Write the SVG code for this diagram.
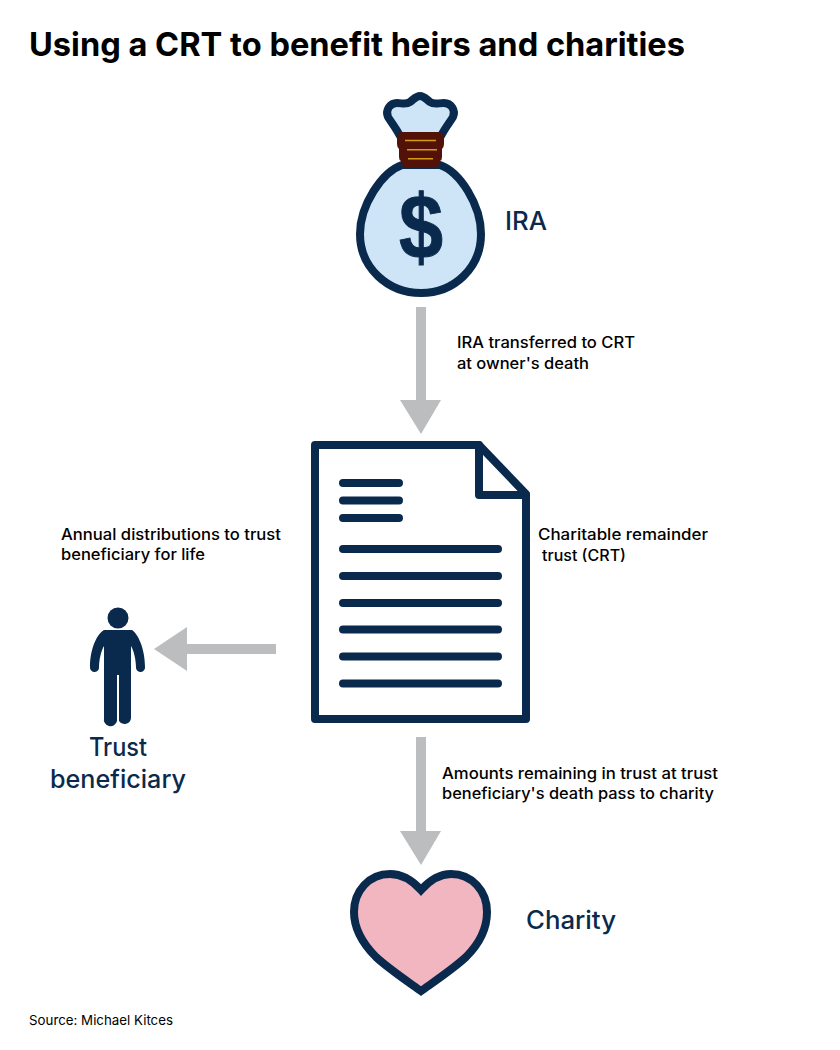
<svg xmlns="http://www.w3.org/2000/svg" width="840" height="1050" viewBox="0 0 840 1050">
<style>
text{font-family:"Inter","Noto Sans","Liberation Sans",sans-serif}
.title{font-size:33px;font-weight:700;fill:#000}
.lab{font-size:25px;font-weight:500;fill:#0a2a4d}
.note{font-size:15.500px;font-weight:500;fill:#000}
.src{font-size:13.500px;fill:#000}
.ink{fill:none;stroke:#0a2a4d;stroke-width:8;stroke-linejoin:round;stroke-linecap:round}
.arrow{fill:#bcbdbf}
</style>
<rect width="840" height="1050" fill="#fff"/>
<text class="title" x="29" y="56" textLength="656" lengthAdjust="spacingAndGlyphs">Using a CRT to benefit heirs and charities</text>
<g id="connectors">
<path class="arrow" d="M416 307H426V400H441L421 434L400 400H416Z"/>
<path class="arrow" d="M276 644V654H187V671L154 649L187 627V644Z"/>
<path class="arrow" d="M416 737H426V831H441L421 865L400 831H416Z"/>
</g>
<g id="ira">
<path d="M400 136C396 128 391 122 388 117C385 110 390 103 397 103C402 103 406 105 410 102C414 99 416 96 420 96C424 96 426 99 430 102C434 105 438 103 444 103C451 103 456 110 453 117C450 122 445 128 441 136Z" fill="#cde5f7" stroke="#0a2a4d" stroke-width="8" stroke-linejoin="round"/>
<path d="M402 165C382 172 360 205 360 234C360 268 388 293 421 293C454 293 481 268 481 234C481 205 460 172 440 165Z" fill="#cde5f7" stroke="#0a2a4d" stroke-width="8" stroke-linejoin="round"/>
<path d="M403 132H438Q444 132 444 140V144Q444 147 442 149V157Q442 160 440 161V162Q440 167 435 167H406Q401 167 401 162V161Q399 160 399 157V149Q397 147 397 144V140Q397 132 403 132Z" fill="#521208"/>
<path d="M405 140.500H436M407 149.800H437M408 158.800H433" stroke="#d79a12" stroke-width="1.500" fill="none"/>
<text transform="translate(421,258) scale(.88,1)" text-anchor="middle" font-size="90" stroke="#0a2a4d" stroke-width="1" style="font-family:'Liberation Sans',sans-serif;font-weight:700;fill:#0a2a4d">$</text>
<text class="lab" x="505" y="230" textLength="42" lengthAdjust="spacingAndGlyphs">IRA</text>
</g>
<text class="note" x="457" y="348" textLength="178" lengthAdjust="spacingAndGlyphs">IRA transferred to CRT</text>
<text class="note" x="457" y="369" textLength="132" lengthAdjust="spacingAndGlyphs">at owner's death</text>
<g id="crt">
<path d="M315 445H479L526 494V719H315Z" class="ink" style="fill:#fff"/>
<path d="M479 445V495H526" class="ink"/>
<path d="M343 483H399M343 500.500H399M343 518H399M343 549H498M343 576H498M343 603H498M343 629.500H498M343 656.500H498M343 683.500H498" class="ink"/>
<text class="note" x="538" y="540" textLength="170" lengthAdjust="spacingAndGlyphs">Charitable remainder</text>
<text class="note" x="542" y="561" textLength="84" lengthAdjust="spacingAndGlyphs">trust (CRT)</text>
</g>
<text class="note" x="61" y="540" textLength="220" lengthAdjust="spacingAndGlyphs">Annual distributions to trust</text>
<text class="note" x="61" y="560" textLength="144" lengthAdjust="spacingAndGlyphs">beneficiary for life</text>
<g id="beneficiary">
<circle cx="118" cy="618" r="10.500" fill="#0a2a4d"/>
<path d="M104 630H132C139 635 145 650 145 667A4.500 4.500 0 0 1 136 668C136 660 134 651 131 646V718A6.500 6.500 0 0 1 119 721V675H117V721A6.500 6.500 0 0 1 104 718V646C101 651 99 660 99 668A4.500 4.500 0 0 1 90 667C90 650 96 635 104 630Z" fill="#0a2a4d"/>
<text class="lab" x="89" y="756" textLength="58" lengthAdjust="spacingAndGlyphs">Trust</text>
<text class="lab" x="50" y="788" textLength="136" lengthAdjust="spacingAndGlyphs">beneficiary</text>
</g>
<text class="note" x="442" y="779" textLength="276" lengthAdjust="spacingAndGlyphs">Amounts remaining in trust at trust</text>
<text class="note" x="442" y="799" textLength="272" lengthAdjust="spacingAndGlyphs">beneficiary's death pass to charity</text>
<g id="charity">
<path d="M421 890C412 880 402 874 390 874C369 874 354 891 354 912C354 931 364 945 376 957C389 969 407 981 421 991C435 981 453 969 466 957C478 945 487 931 487 912C487 891 472 874 451 874C439 874 430 880 421 890Z" fill="#f2b6c0" stroke="#0a2a4d" stroke-width="8" stroke-linejoin="miter"/>
<text class="lab" x="526" y="929" textLength="90" lengthAdjust="spacingAndGlyphs">Charity</text>
</g>
<text class="src" x="29" y="1025" textLength="144" lengthAdjust="spacingAndGlyphs">Source: Michael Kitces</text>
</svg>
